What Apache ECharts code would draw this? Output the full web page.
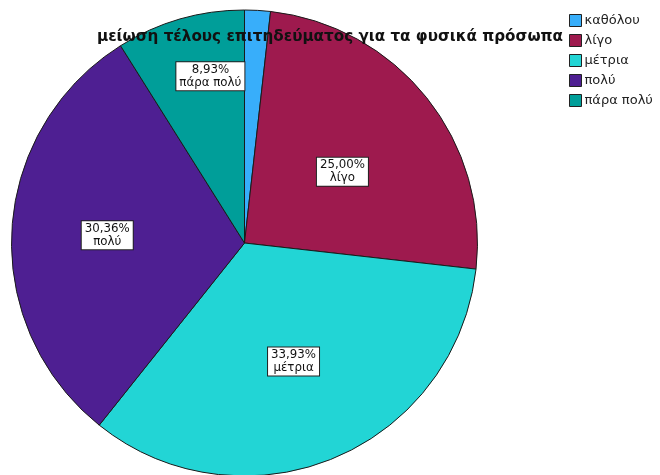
<!DOCTYPE html>
<html>
<head>
<meta charset="utf-8">
<script src="https://cdn.jsdelivr.net/npm/echarts@6/dist/echarts.min.js"></script>
<style>
  html, body { margin: 0; padding: 0; background: #fff; }
  #chart { width: 660px; height: 475px; }
</style>
</head>
<body>
<div id="chart"></div>
<script>
// Responses (counts) per answer category
var categories = ['καθόλου', 'λίγο', 'μέτρια', 'πολύ', 'πάρα πολύ'];
var counts = [1, 14, 19, 17, 5];
var sliceColors = ['#38AEFA', '#9E1A4E', '#22D5D5', '#4E1F92', '#009E99'];
// Whether each slice carries a value label, how far out (fraction of radius)
// and a small clockwise turn (degrees) away from the slice's mid-angle
var showLabel = [false, true, true, true, true];
var labelRadius = [0.5, 0.52, 0.55, 0.59, 0.73];
var labelTurn = [0, 2.5, 0, 0, 4.5];

var titleText = 'μείωση τέλους επιτηδεύματος για τα φυσικά πρόσωπα';

var CX = 244.5, CY = 243, R = 233;
var fontFam = '"DejaVu Sans", Verdana, sans-serif';

var chart = echarts.init(document.getElementById('chart'));

var data = categories.map(function (name, i) {
  return {
    name: name,
    value: counts[i],
    itemStyle: { color: sliceColors[i] },
    label: { show: showLabel[i] }
  };
});

chart.setOption({
  animation: false,
  title: {
    text: titleText,
    left: 'center',
    top: 30,
    padding: 0,
    textStyle: { fontFamily: fontFam, fontSize: 15.2, fontWeight: 'bold', color: '#111' }
  },
  legend: {
    orient: 'vertical',
    left: 569,
    top: 14,
    padding: 0,
    itemWidth: 12,
    itemHeight: 12,
    itemGap: 7,
    icon: 'rect',
    itemStyle: { borderColor: '#222', borderWidth: 1 },
    textStyle: { fontFamily: fontFam, fontSize: 13, color: '#222', padding: [0, 0, 0, -2] },
    data: categories
  },
  series: [{
    type: 'pie',
    center: [CX, CY],
    radius: R,
    startAngle: 90,
    clockwise: true,
    silent: true,
    itemStyle: { borderColor: '#1a1a1a', borderWidth: 1 },
    label: {
      position: 'inside',
      fontFamily: fontFam,
      fontSize: 11.8,
      lineHeight: 13,
      color: '#111',
      align: 'center',
      backgroundColor: '#fff',
      borderColor: '#222',
      borderWidth: 1,
      padding: [1, 3, 1, 3],
      formatter: function (p) {
        return p.percent.toFixed(2).replace('.', ',') + '%\n' + p.name;
      }
    },
    labelLayout: function (p) {
      // move each label from its default half-radius spot along the slice
      var lr = p.labelRect;
      var lx = lr.x + lr.width / 2, ly = lr.y + lr.height / 2;
      var ang = Math.atan2(ly - CY, lx - CX) + labelTurn[p.dataIndex] * Math.PI / 180;
      var rr = labelRadius[p.dataIndex] * R;
      return { dx: CX + rr * Math.cos(ang) - lx, dy: CY + rr * Math.sin(ang) - ly };
    },
    labelLine: { show: false },
    data: data
  }]
});
</script>
</body>
</html>
